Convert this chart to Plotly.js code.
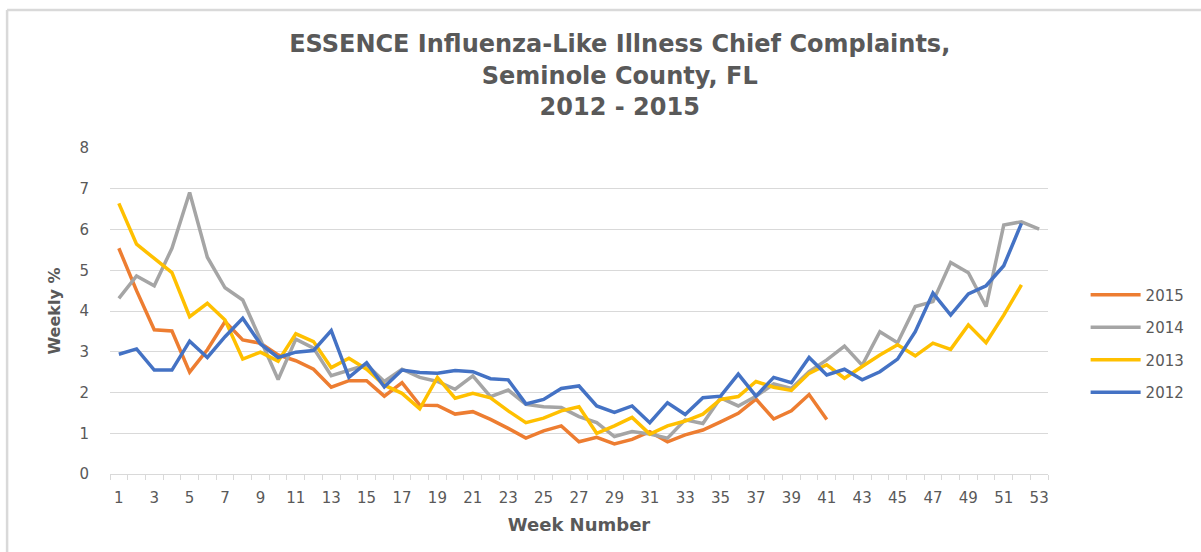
<!DOCTYPE html>
<html>
<head>
<meta charset="utf-8">
<script src="https://cdn.plot.ly/plotly-3.0.1.min.js"></script>
<style>
  html, body { margin: 0; padding: 0; background: #ffffff; }
  #chart { width: 1201px; height: 552px; }
</style>
</head>
<body>
<div id="chart"></div>
<script>
const weeks = [1,2,3,4,5,6,7,8,9,10,11,12,13,14,15,16,17,18,19,20,21,22,23,24,25,26,27,28,29,30,31,32,33,34,35,36,37,38,39,40,41,42,43,44,45,46,47,48,49,50,51,52,53];
const weekTickVals = [1,3,5,7,9,11,13,15,17,19,21,23,25,27,29,31,33,35,37,39,41,43,45,47,49,51,53];
const weekTickText = ["1","3","5","7","9","11","13","15","17","19","21","23","25","27","29","31","33","35","37","39","41","43","45","47","49","51","53"];
const weekBoundaries = [0.5,1.5,2.5,3.5,4.5,5.5,6.5,7.5,8.5,9.5,10.5,11.5,12.5,13.5,14.5,15.5,16.5,17.5,18.5,19.5,20.5,21.5,22.5,23.5,24.5,25.5,26.5,27.5,28.5,29.5,30.5,31.5,32.5,33.5,34.5,35.5,36.5,37.5,38.5,39.5,40.5,41.5,42.5,43.5,44.5,45.5,46.5,47.5,48.5,49.5,50.5,51.5,52.5,53.5];

const y2015 = [5.54,4.50,3.54,3.51,2.50,3.05,3.74,3.29,3.21,2.92,2.78,2.57,2.13,2.29,2.29,1.91,2.24,1.69,1.68,1.47,1.53,1.34,1.12,0.88,1.06,1.18,0.79,0.90,0.74,0.85,1.04,0.79,0.96,1.08,1.28,1.49,1.84,1.35,1.55,1.95,1.34];
const y2014 = [4.31,4.86,4.62,5.54,6.91,5.32,4.57,4.27,3.30,2.32,3.31,3.09,2.41,2.55,2.68,2.27,2.57,2.37,2.27,2.08,2.41,1.90,2.06,1.71,1.65,1.63,1.41,1.26,0.92,1.04,0.98,0.88,1.33,1.24,1.87,1.67,1.91,2.21,2.10,2.51,2.80,3.14,2.67,3.49,3.22,4.11,4.23,5.19,4.94,4.11,6.11,6.19,6.01];
const y2013 = [6.64,5.64,5.29,4.94,3.86,4.19,3.78,2.82,2.99,2.77,3.44,3.25,2.61,2.84,2.57,2.18,1.98,1.60,2.37,1.86,1.98,1.87,1.55,1.26,1.37,1.55,1.65,1.00,1.18,1.39,0.98,1.18,1.30,1.47,1.83,1.90,2.27,2.13,2.05,2.47,2.68,2.35,2.64,2.92,3.17,2.90,3.21,3.06,3.66,3.22,3.90,4.64];
const y2012 = [2.94,3.07,2.55,2.55,3.26,2.86,3.37,3.82,3.19,2.86,2.99,3.03,3.52,2.37,2.73,2.14,2.55,2.49,2.47,2.54,2.51,2.34,2.31,1.72,1.83,2.10,2.16,1.67,1.51,1.67,1.26,1.75,1.46,1.87,1.91,2.45,1.91,2.37,2.24,2.86,2.43,2.57,2.31,2.51,2.82,3.49,4.44,3.90,4.42,4.62,5.11,6.15];

const seriesNames = ["2015","2014","2013","2012"];
const seriesData = [y2015, y2014, y2013, y2012];
const seriesColors = ["#ED7D31","#A5A5A5","#FFC000","#4472C4"];

const textColor = "#595959";
const gridColor = "#D9D9D9";
const fontFamily = "DejaVu Sans, Verdana, sans-serif";

const traces = seriesNames.map((name, i) => ({
  type: "scatter",
  mode: "lines",
  name: name,
  legendgroup: name,
  x: weeks.slice(0, seriesData[i].length),
  y: seriesData[i],
  line: { color: seriesColors[i], width: 3.5 },
  hoverinfo: "x+y+name"
}));

// helper trace for the boundary tick-mark axis
traces.push({
  type: "scatter", mode: "none", x: [0.5, 53.5], y: [0, 0],
  xaxis: "x2", showlegend: false, hoverinfo: "skip"
});

const layout = {
  width: 1201,
  height: 552,
  paper_bgcolor: "#ffffff",
  plot_bgcolor: "#ffffff",
  margin: { l: 110, r: 152, t: 148, b: 78 },
  title: {
    text: "ESSENCE Influenza-Like Illness Chief Complaints,<br>Seminole County, FL<br>2012 - 2015",
    font: { family: fontFamily, size: 24, color: textColor, weight: "bold" },
    x: 0.516, xref: "container", xanchor: "center",
    y: 0.905, yref: "container", yanchor: "top"
  },
  xaxis: {
    range: [0.5, 53.5],
    tickmode: "array",
    tickvals: weekTickVals,
    ticktext: weekTickText,
    ticks: "",
    showgrid: false,
    zeroline: false,
    showline: false,
    tickfont: { family: fontFamily, size: 15, color: textColor },
    ticklabelstandoff: 13,
    title: {
      text: "Week Number",
      font: { family: fontFamily, size: 18, color: textColor, weight: "bold" },
      standoff: 12
    },
    fixedrange: true
  },
  xaxis2: {
    overlaying: "x",
    anchor: "y",
    side: "bottom",
    range: [0.5, 53.5],
    tickmode: "array",
    tickvals: weekBoundaries,
    ticks: "outside",
    ticklen: 5,
    tickwidth: 1,
    tickcolor: gridColor,
    showticklabels: false,
    showline: true,
    linecolor: gridColor,
    linewidth: 1.3,
    showgrid: false,
    zeroline: false,
    fixedrange: true
  },
  yaxis: {
    range: [0, 8],
    dtick: 1,
    tick0: 0,
    showgrid: true,
    gridcolor: gridColor,
    gridwidth: 1.3,
    zeroline: false,
    showline: false,
    ticks: "",
    tickfont: { family: fontFamily, size: 15, color: textColor },
    ticklabelstandoff: 20,
    title: {
      text: "Weekly %",
      font: { family: fontFamily, size: 16, color: textColor, weight: "bold" },
      standoff: 14
    },
    fixedrange: true
  },
  legend: {
    x: 1.039, xanchor: "left",
    y: 0.60, yanchor: "top",
    font: { family: fontFamily, size: 15, color: textColor },
    tracegroupgap: 10,
    itemwidth: 50,
    bgcolor: "rgba(0,0,0,0)"
  },
  shapes: [
    { type: "line", xref: "paper", yref: "paper", x0: -0.1097, x1: 1.2, y0: 1.4233, y1: 1.4233,
      line: { color: gridColor, width: 2.5 } },
    { type: "line", xref: "paper", yref: "paper", x0: -0.1097, x1: -0.1097, y0: 1.4233, y1: -0.3,
      line: { color: gridColor, width: 2.5 } }
  ],
  showlegend: true,
  hovermode: "closest"
};

Plotly.newPlot("chart", traces, layout, { displayModeBar: false });
</script>
</body>
</html>
